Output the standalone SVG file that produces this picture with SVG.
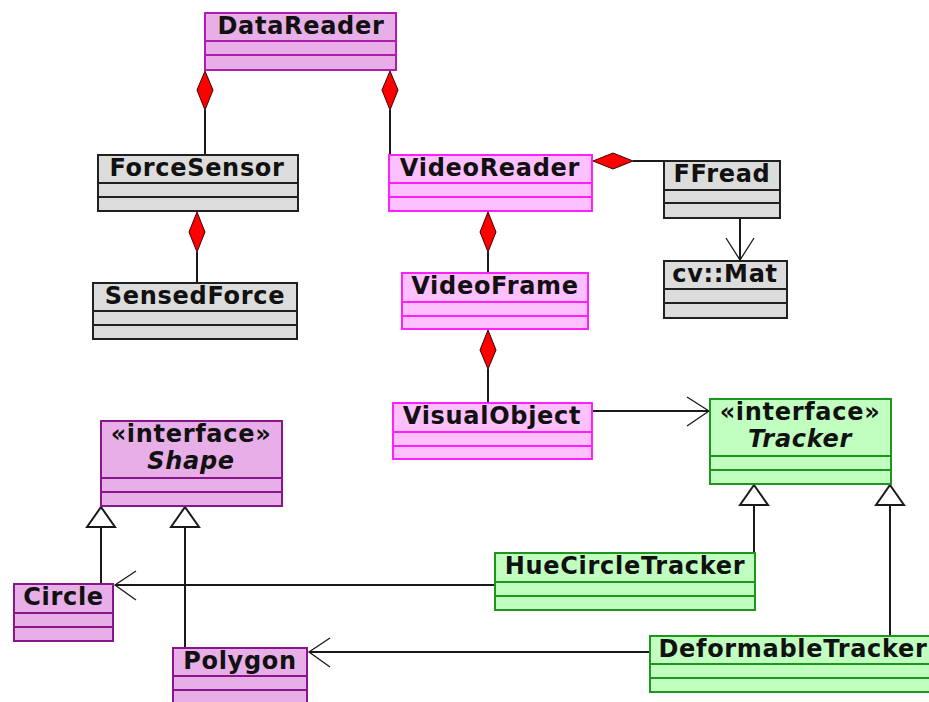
<svg xmlns="http://www.w3.org/2000/svg" width="929" height="702" viewBox="0 0 929 702">
<style>
  .box { stroke-width: 2; }
  .plum { fill: #e8aee8; stroke: #b01cb0; }
  .purp { fill: #e8aee8; stroke: #88158a; }
  .pink { fill: #ffc0ff; stroke: #ff20ff; }
  .gray { fill: #dcdcdc; stroke: #202020; }
  .green { fill: #c0ffc0; stroke: #1e961e; }
  .div { stroke-width: 2; }
  .dplum { stroke: #b01cb0; }
  .dpurp { stroke: #88158a; }
  .dpink { stroke: #ff20ff; }
  .dgray { stroke: #202020; }
  .dgreen { stroke: #1e961e; }
  text { font-family: "DejaVu Sans", sans-serif; font-weight: bold; font-size: 24px; letter-spacing: 0.7px; fill: #111; text-anchor: middle; }
  .it { font-style: italic; }
  .line { stroke: #1a1a1a; stroke-width: 2; fill: none; }
  .arm { stroke: #1a1a1a; stroke-width: 1.3; fill: none; }
  .dia { fill: #ff0000; stroke: #3a0000; stroke-width: 1; }
  .tri { fill: #ffffff; stroke: #1a1a1a; stroke-width: 2; }
</style>

<g id="connectors">
  <line class="line" x1="205" y1="110" x2="205" y2="155"/>
  <polygon class="dia" points="205,71 213,90 205,110 197,90"/>
  <line class="line" x1="390" y1="110" x2="390" y2="155"/>
  <polygon class="dia" points="390,71 398,90 390,110 382,90"/>
  <line class="line" x1="197" y1="252" x2="197" y2="283"/>
  <polygon class="dia" points="197,212 205,232 197,252 189,232"/>
  <line class="line" x1="633" y1="161" x2="664" y2="161"/>
  <polygon class="dia" points="593,161 613,153 633,161 613,169"/>
  <line class="line" x1="488" y1="252" x2="488" y2="273"/>
  <polygon class="dia" points="488,212 496,232 488,252 480,232"/>
  <line class="line" x1="488" y1="369" x2="488" y2="403"/>
  <polygon class="dia" points="488,330 496,350 488,369 480,350"/>
  <line class="line" x1="740" y1="218" x2="740" y2="260"/>
  <polyline class="arm" points="726,238 740,260 754,238"/>
  <line class="line" x1="592" y1="411" x2="709" y2="411"/>
  <polyline class="arm" points="687,397 709,411 687,426"/>
  <line class="line" x1="101" y1="584" x2="101" y2="527"/>
  <polygon class="tri" points="101,507 115,527 87,527"/>
  <line class="line" x1="185" y1="648" x2="185" y2="527"/>
  <polygon class="tri" points="185,507 199,527 171,527"/>
  <line class="line" x1="754" y1="553" x2="754" y2="505"/>
  <polygon class="tri" points="754,485 768,505 740,505"/>
  <line class="line" x1="890" y1="636" x2="890" y2="505"/>
  <polygon class="tri" points="890,485 904,505 876,505"/>
  <line class="line" x1="495" y1="585" x2="115" y2="585"/>
  <polyline class="arm" points="136,571 115,585 136,600"/>
  <line class="line" x1="650" y1="652" x2="309" y2="652"/>
  <polyline class="arm" points="330,638 309,652 330,667"/>
</g>

<g id="DataReader">
  <rect class="box plum" x="205" y="13" width="191" height="57"/>
  <line class="div dplum" x1="205" y1="41" x2="396" y2="41"/>
  <line class="div dplum" x1="205" y1="55" x2="396" y2="55"/>
  <text x="301" y="33.5">DataReader</text>
</g>

<g id="ForceSensor">
  <rect class="box gray" x="98" y="155" width="200" height="56"/>
  <line class="div dgray" x1="98" y1="183" x2="298" y2="183"/>
  <line class="div dgray" x1="98" y1="197" x2="298" y2="197"/>
  <text x="197" y="175.5">ForceSensor</text>
</g>

<g id="SensedForce">
  <rect class="box gray" x="93" y="283" width="204" height="56"/>
  <line class="div dgray" x1="93" y1="311" x2="297" y2="311"/>
  <line class="div dgray" x1="93" y1="325" x2="297" y2="325"/>
  <text x="195" y="303.5">SensedForce</text>
</g>

<g id="VideoReader">
  <rect class="box pink" x="389" y="155" width="203" height="56"/>
  <line class="div dpink" x1="389" y1="183" x2="592" y2="183"/>
  <line class="div dpink" x1="389" y1="197" x2="592" y2="197"/>
  <text x="490" y="175.5">VideoReader</text>
</g>

<g id="FFread">
  <rect class="box gray" x="664" y="161" width="116" height="57"/>
  <line class="div dgray" x1="664" y1="190" x2="780" y2="190"/>
  <line class="div dgray" x1="664" y1="203" x2="780" y2="203"/>
  <text x="722" y="181.5">FFread</text>
</g>

<g id="cvMat">
  <rect class="box gray" x="664" y="261" width="123" height="57"/>
  <line class="div dgray" x1="664" y1="289" x2="787" y2="289"/>
  <line class="div dgray" x1="664" y1="303" x2="787" y2="303"/>
  <text x="725" y="281.5">cv::Mat</text>
</g>

<g id="VideoFrame">
  <rect class="box pink" x="402" y="273" width="186" height="56"/>
  <line class="div dpink" x1="402" y1="302" x2="588" y2="302"/>
  <line class="div dpink" x1="402" y1="316" x2="588" y2="316"/>
  <text x="495" y="293.5">VideoFrame</text>
</g>

<g id="VisualObject">
  <rect class="box pink" x="393" y="403" width="199" height="56"/>
  <line class="div dpink" x1="393" y1="432" x2="592" y2="432"/>
  <line class="div dpink" x1="393" y1="446" x2="592" y2="446"/>
  <text x="492" y="423.5">VisualObject</text>
</g>

<g id="Tracker">
  <rect class="box green" x="710" y="399" width="181" height="85"/>
  <line class="div dgreen" x1="710" y1="456" x2="891" y2="456"/>
  <line class="div dgreen" x1="710" y1="470" x2="891" y2="470"/>
  <text x="800" y="420">«interface»</text>
  <text class="it" x="800" y="447">Tracker</text>
</g>

<g id="Shape">
  <rect class="box purp" x="101" y="421" width="181" height="85"/>
  <line class="div dpurp" x1="101" y1="478" x2="282" y2="478"/>
  <line class="div dpurp" x1="101" y1="492" x2="282" y2="492"/>
  <text x="191" y="442">«interface»</text>
  <text class="it" x="191" y="469">Shape</text>
</g>

<g id="Circle">
  <rect class="box purp" x="14" y="584" width="99" height="57"/>
  <line class="div dpurp" x1="14" y1="613" x2="113" y2="613"/>
  <line class="div dpurp" x1="14" y1="627" x2="113" y2="627"/>
  <text x="63.5" y="605">Circle</text>
</g>

<g id="Polygon">
  <rect class="box purp" x="173" y="648" width="134" height="57"/>
  <line class="div dpurp" x1="173" y1="676" x2="307" y2="676"/>
  <line class="div dpurp" x1="173" y1="690" x2="307" y2="690"/>
  <text x="240" y="669">Polygon</text>
</g>

<g id="HueCircleTracker">
  <rect class="box green" x="495" y="553" width="260" height="57"/>
  <line class="div dgreen" x1="495" y1="582" x2="755" y2="582"/>
  <line class="div dgreen" x1="495" y1="596" x2="755" y2="596"/>
  <text x="625" y="574">HueCircleTracker</text>
</g>

<g id="DeformableTracker">
  <rect class="box green" x="650" y="636" width="285" height="56"/>
  <line class="div dgreen" x1="650" y1="664" x2="935" y2="664"/>
  <line class="div dgreen" x1="650" y1="678" x2="935" y2="678"/>
  <text x="793" y="656.5">DeformableTracker</text>
</g>
</svg>
